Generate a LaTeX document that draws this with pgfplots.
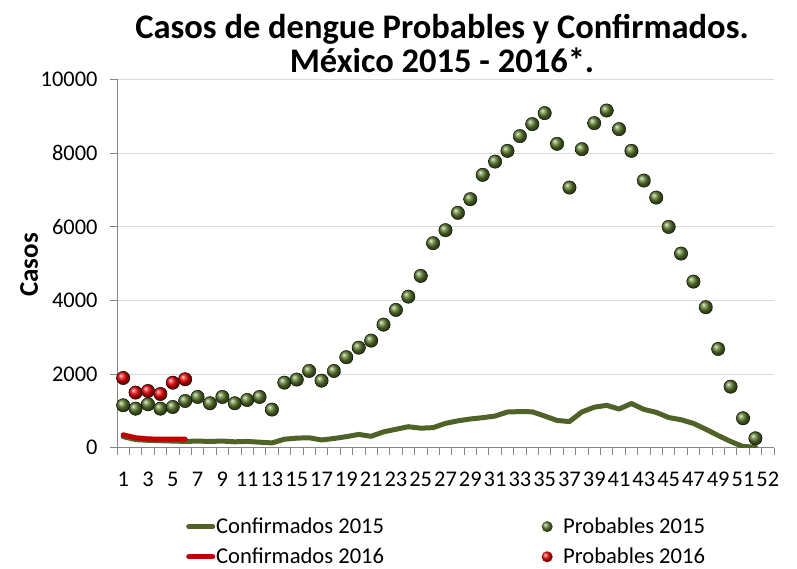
\documentclass[border=0pt]{standalone}
\usepackage{fontspec}
\setmainfont{Carlito}
\usepackage{pgfplots}
\pgfplotsset{compat=1.18}
\definecolor{cgreen}{HTML}{4F6228}
\definecolor{bgreen}{HTML}{5A7A2A}
\definecolor{cred}{HTML}{C00000}
\definecolor{bred}{HTML}{E80000}
\definecolor{gridgray}{HTML}{D9D9D9}
\definecolor{axgray}{HTML}{868686}
\begin{document}
\begin{tikzpicture}[x=1pt,y=1pt]
\path[use as bounding box] (0,0) rectangle (797,569);
\node[font=\fontsize{34.5}{34}\selectfont\bfseries, align=center, anchor=base] at (442,496) {Casos de dengue Probables y Confirmados.\\México 2015 - 2016*.};
\node[font=\fontsize{27}{27}\selectfont\bfseries, rotate=90] at (29,304) {Casos};
\begin{axis}[
  at={(117pt,121.3pt)}, anchor=south west,
  scale only axis, width=657pt, height=368.2pt,
  xmin=0.5, xmax=53.5, ymin=0, ymax=10000,
  axis x line*=bottom, axis y line*=left,
  axis line style={axgray, line width=0.8pt},
  xtick={1,3,...,53},
  xticklabels={1,3,5,7,9,11,13,15,17,19,21,23,25,27,29,31,33,35,37,39,41,43,45,47,49,51,52},
  minor xtick={0.5,1.5,...,53.5},
  ytick={0,2000,...,10000},
  scaled y ticks=false,
  ymajorgrids, major grid style={gridgray, line width=0.8pt},
  tick align=outside,
  x tick style={draw=none},
  minor x tick style={draw=axgray, line width=0.8pt},
  minor tick length=7pt,
  y tick style={axgray, line width=0.8pt},
  major tick length=7pt,
  /pgf/number format/assume math mode=true,
  /pgf/number format/1000 sep={},
  tick label style={font=\fontsize{22.4}{22.4}\selectfont},
  xticklabel style={yshift=-14pt, inner xsep=0pt},
  yticklabel style={xshift=-9pt},
  legend columns=2,
  legend style={at={(rel axis cs:0.105,-0.185)}, anchor=north west, draw=none, fill=none,
    inner sep=0pt, nodes={inner xsep=1pt, inner ysep=2pt},
    font=\fontsize{22.6}{22.6}\selectfont, row sep=9pt,
    /tikz/every even column/.append style={column sep=155pt},
    /tikz/every odd column/.append style={column sep=0pt}},
  legend cell align=left,
]
\addplot[cgreen, line width=5pt, line join=round, line cap=round,
  legend image code/.code={\path[draw=none, fill=none] (0pt,-3pt) rectangle (29pt,3pt); \draw[cgreen, line width=5pt, line cap=round] (2.5pt,0pt) -- (26.5pt,0pt);}]
coordinates {(1,300) (2,220) (3,200) (4,190) (5,180) (6,170) (7,180) (8,170) (9,180) (10,160) (11,170) (12,150) (13,130) (14,230) (15,260) (16,270) (17,210) (18,250) (19,300) (20,360) (21,310) (22,430) (23,500) (24,570) (25,530) (26,545) (27,660) (28,730) (29,780) (30,815) (31,860) (32,970) (33,980) (34,975) (35,860) (36,740) (37,710) (38,970) (39,1100) (40,1150) (41,1050) (42,1200) (43,1040) (44,960) (45,820) (46,760) (47,660) (48,500) (49,330) (50,170) (51,30) (52,20)};
\addlegendentry{Confirmados 2015}
\addplot[only marks, mark=ball, mark size=6.7pt, mark options={ball color=bgreen},
  legend image code/.code={\path[draw=none, fill=none] (0pt,-5.5pt) rectangle (22pt,5.5pt); \shade[draw=none, ball color=bgreen] (7pt,0pt) circle (5.5pt);}]
coordinates {(1,1152) (2,1060) (3,1179) (4,1060) (5,1106) (6,1269) (7,1378) (8,1207) (9,1378) (10,1207) (11,1296) (12,1378) (13,1035) (14,1767) (15,1850) (16,2084) (17,1821) (18,2084) (19,2457) (20,2717) (21,2908) (22,3342) (23,3742) (24,4103) (25,4666) (26,5554) (27,5908) (28,6378) (29,6750) (30,7410) (31,7770) (32,8062) (33,8462) (34,8788) (35,9087) (36,8253) (37,7065) (38,8108) (39,8815) (40,9158) (41,8652) (42,8062) (43,7255) (44,6793) (45,5997) (46,5272) (47,4511) (48,3815) (49,2682) (50,1658) (51,799) (52,255)};
\addlegendentry{Probables 2015}
\addplot[cred, line width=5pt, line join=round, line cap=round,
  legend image code/.code={\path[draw=none, fill=none] (0pt,-3pt) rectangle (29pt,3pt); \draw[cred, line width=5pt, line cap=round] (2.5pt,0pt) -- (26.5pt,0pt);}]
coordinates {(1,350) (2,270) (3,240) (4,230) (5,230) (6,230)};
\addlegendentry{Confirmados 2016}
\addplot[only marks, mark=ball, mark size=6.7pt, mark options={ball color=bred},
  legend image code/.code={\path[draw=none, fill=none] (0pt,-5.5pt) rectangle (22pt,5.5pt); \shade[draw=none, ball color=bred] (7pt,0pt) circle (5.5pt);}]
coordinates {(1,1894) (2,1497) (3,1541) (4,1459) (5,1766) (6,1859)};
\addlegendentry{Probables 2016}
\end{axis}
\end{tikzpicture}
\end{document}
